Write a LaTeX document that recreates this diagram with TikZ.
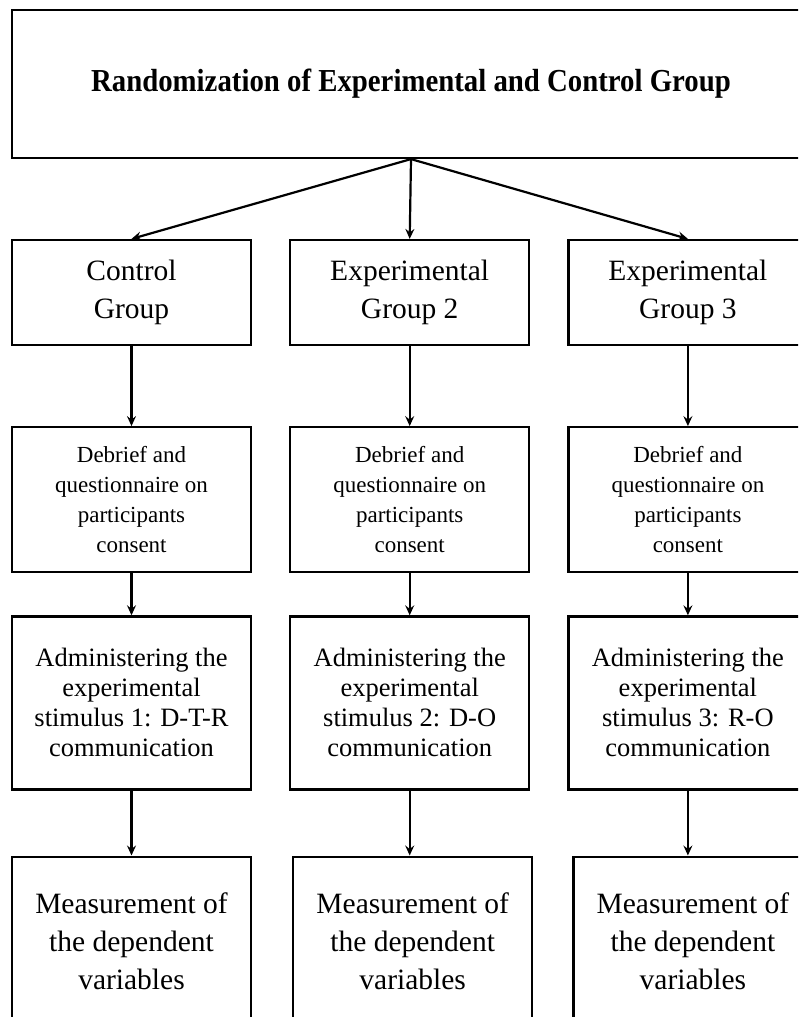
\documentclass[tikz,border=0pt]{standalone}
\usepackage{fontspec}
\setmainfont{Liberation Serif}
\usetikzlibrary{positioning}
\usetikzlibrary{arrows.meta}

\tikzset{
  box/.style = {draw, line width=2.2pt, align=center, inner sep=0pt,
                minimum width=239pt},
  bigtext/.style = {font=\fontsize{29.5}{38}\selectfont},
  smalltext/.style = {font=\fontsize{23}{30}\selectfont},
  midtext/.style = {font=\fontsize{26.5}{30}\selectfont},
  link/.style = {->, line width=2.2pt}
}

\begin{document}
\begin{tikzpicture}[x=1pt, y=-1pt, >={Stealth[length=10pt,width=9pt,inset=3.5pt]}, node distance = 80pt and 37pt]
\clip (0,0) rectangle (798,1017);
\useasboundingbox (0,0) rectangle (798,1017);
\node[box, minimum width=798pt, minimum height=148pt, font=\bfseries\fontsize{32}{38}\selectfont] (R) at (411,84)
  {\scalebox{0.9}[1]{Randomization of Experimental and Control Group}};

% groups
\node[box, bigtext, minimum height=105pt] (C1) at (131.5,292.5) {Control\\Group};
\node[box, bigtext, minimum height=105pt, right = of C1] (C2) {Experimental\\Group 2};
\node[box, bigtext, minimum height=105pt, right = of C2] (C3) {Experimental\\Group 3};

% debrief
\node[box, smalltext, minimum height=145pt, below = of C1] (D1) {Debrief and\\questionnaire on\\participants\\consent};
\node[box, smalltext, minimum height=145pt, below = of C2] (D2) {Debrief and\\questionnaire on\\participants\\consent};
\node[box, smalltext, minimum height=145pt, below = of C3] (D3) {Debrief and\\questionnaire on\\participants\\consent};

% stimulus
\node[box, midtext, minimum height=173pt, below = 42pt of D1] (S1) {Administering the\\experimental\\stimulus 1: D-T-R\\communication};
\node[box, midtext, minimum height=173pt, below = 42pt of D2] (S2) {Administering the\\experimental\\stimulus 2: D-O\\communication};
\node[box, midtext, minimum height=173pt, below = 42pt of D3] (S3) {Administering the\\experimental\\stimulus 3: R-O\\communication};

% measurement
\node[box, bigtext, minimum height=170pt, below = 65pt of S1] (M1) {Measurement of\\the dependent\\variables};
\node[box, bigtext, minimum height=170pt, below = 65pt of S2, xshift=3pt] (M2) {Measurement of\\the dependent\\variables};
\node[box, bigtext, minimum height=170pt, below = 65pt of S3, xshift=5pt] (M3) {Measurement of\\the dependent\\variables};

\draw[link] (R.south) -- (C1.north);
\draw[link] (R.south) -- (C2.north);
\draw[link] (R.south) -- (C3.north);
\foreach \i in {1,2,3} {
  \draw[link] (C\i) -- (D\i);
  \draw[link] (D\i) -- (S\i);
  \draw[link] (S\i.south) -- (S\i.south |- M\i.north);
}
\end{tikzpicture}
\end{document}
